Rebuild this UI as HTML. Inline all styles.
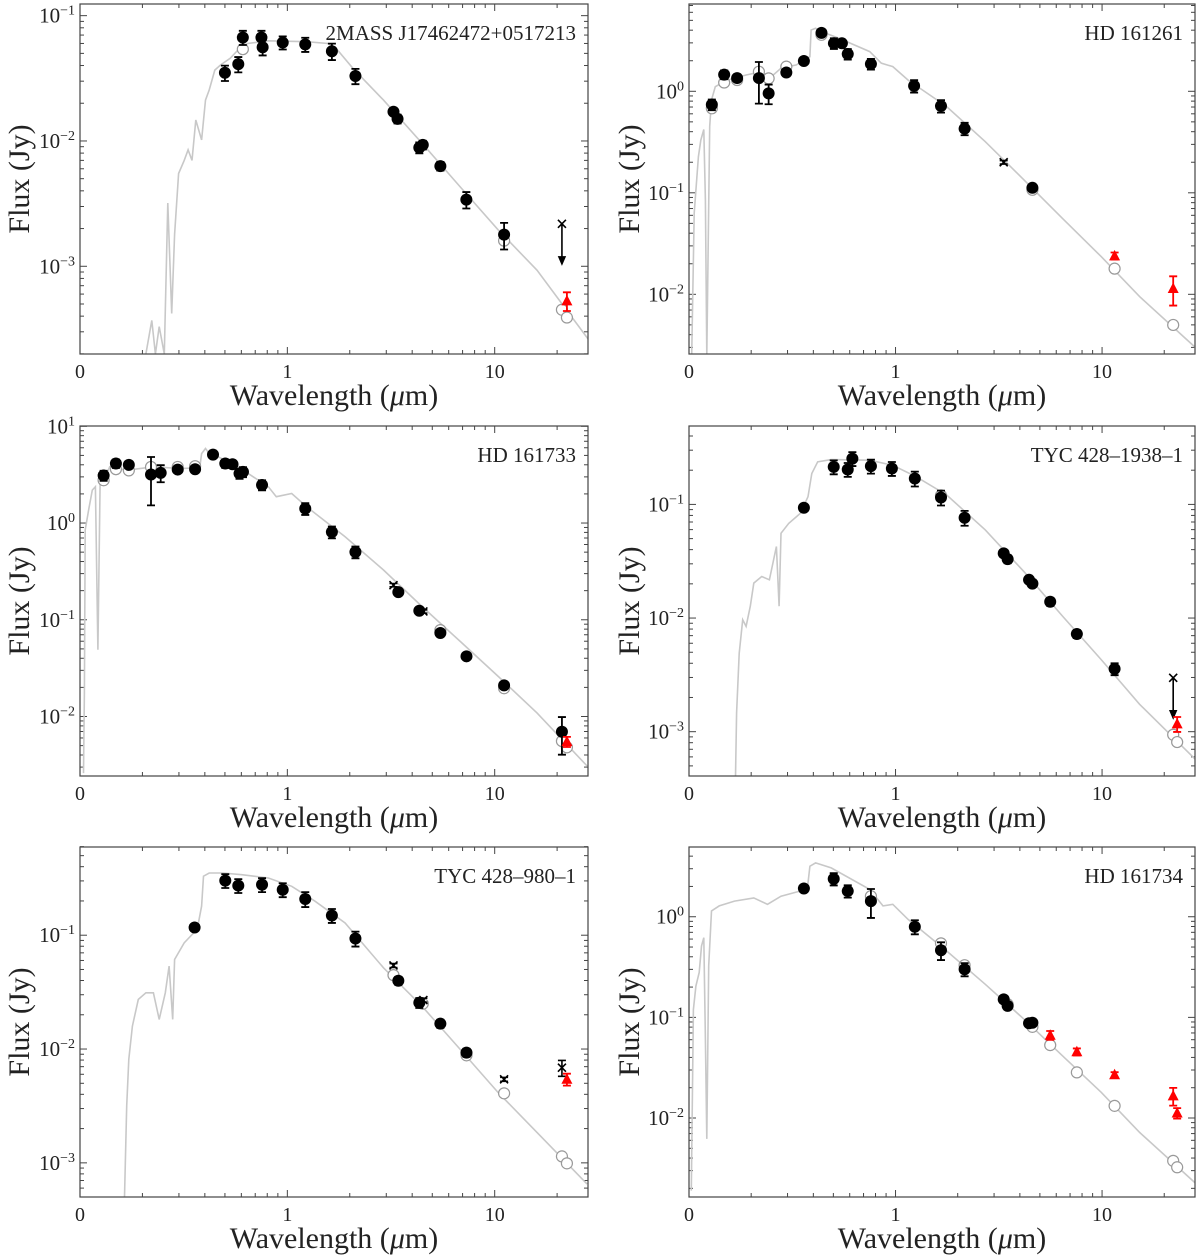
<!DOCTYPE html>
<html><head><meta charset="utf-8"><style>
html,body{margin:0;padding:0;background:#fff;}
svg{display:block;font-family:"Liberation Serif","DejaVu Serif",serif;}
</style></head><body>
<svg id="fig" width="1200" height="1260" viewBox="0 0 1200 1260" xmlns="http://www.w3.org/2000/svg"></svg>
<script>
// ===== Panel 1: 2MASS J17462472+0517213 =====
const p1ModelWl=[0.208,0.222,0.231,0.241,0.255,0.265,0.277,0.286,0.299,0.318,0.332,0.347,0.362,0.386,0.403,0.420,0.447,0.476,0.53,0.578,0.643,0.81,1.24,1.57,1.75,2.07,2.91,4.46,6.82,10.4,16.0,28.6];
const p1ModelFlux=[0.0002,0.00037,0.0002,0.00033,0.0002,0.0032,0.00042,0.0018,0.0055,0.007,0.0085,0.007,0.0147,0.0102,0.0212,0.0255,0.0368,0.0404,0.0457,0.0532,0.060,0.063,0.062,0.060,0.053,0.038,0.0212,0.0096,0.0043,0.00195,0.00093,0.000255];
const p1Wl=[0.50,0.58,0.61,0.75,0.76,0.95,1.22,1.64,2.13,3.25,3.4,4.33,4.5,5.47,7.3,11.1];
const p1Flux=[0.035,0.041,0.067,0.067,0.056,0.061,0.059,0.052,0.033,0.0171,0.015,0.00885,0.0093,0.0063,0.0034,0.00179];
const p1Err=[0.14,0.14,0.13,0.13,0.14,0.12,0.13,0.15,0.14,0.06,0.08,0.1,0.08,0.08,0.15,0.24];
const p1OpenWl=[0.61,11.1,21.1,22.3];
const p1OpenFlux=[0.054,0.0016,0.00045,0.00039];
const p1CrossWl=[21.1];
const p1CrossFlux=[0.00218];
const p1CrossErr=[0];
const p1CrossLimit=[true];
const p1RedWl=[22.3];
const p1RedFlux=[0.00053];
const p1RedErr=[0.17];

// ===== Panel 2: HD 161261 =====
const p2ModelWl=[0.103,0.106,0.111,0.114,0.118,0.120,0.122,0.126,0.1285,0.134,0.153,0.19,0.225,0.245,0.279,0.331,0.369,0.385,0.39,0.41,0.438,0.532,0.75,0.853,0.97,1.15,1.77,2.72,4.19,6.43,9.9,15.2,29.8];
const p2ModelFlux=[0.0025,0.063,0.227,0.33,0.42,0.085,0.0025,0.45,0.82,1.11,1.29,1.45,1.56,1.34,1.69,1.82,2.11,2.19,4.02,4.17,3.87,3.33,2.46,1.89,1.75,1.29,0.706,0.319,0.134,0.056,0.0235,0.0095,0.00272];
const p2Wl=[0.129,0.148,0.171,0.218,0.243,0.296,0.36,0.438,0.503,0.55,0.587,0.76,1.23,1.66,2.16,4.6];
const p2Flux=[0.74,1.46,1.35,1.35,0.955,1.53,1.99,3.76,2.97,2.97,2.33,1.86,1.13,0.717,0.429,0.112];
const p2Err=[0.12,0.1,0.08,0.44,0.22,0.08,0.06,0.05,0.12,0.06,0.12,0.12,0.14,0.14,0.14,0.04];
const p2OpenWl=[0.129,0.148,0.171,0.218,0.243,0.296,0.438,4.6,11.5,22.1];
const p2OpenFlux=[0.68,1.22,1.29,1.56,1.34,1.75,3.6,0.107,0.0179,0.00499];
const p2CrossWl=[3.34];
const p2CrossFlux=[0.20];
const p2CrossErr=[0.04];
const p2CrossLimit=[false];
const p2RedWl=[11.5,22.1];
const p2RedFlux=[0.0239,0.0114];
const p2RedErr=[0.08,0.32];

// ===== Panel 3: HD 161733 =====
const p3ModelWl=[0.104,0.105,0.106,0.110,0.1146,0.1186,0.122,0.125,0.130,0.139,0.168,0.226,0.305,0.378,0.386,0.403,0.42,0.448,0.578,0.81,0.885,1.05,1.24,1.9,2.91,4.46,6.82,10.4,16.0,27.9];
const p3ModelFlux=[0.0026,0.0175,0.85,1.36,2.19,2.37,0.049,2.57,2.67,3.81,3.52,3.81,3.66,3.72,5.22,5.9,5.22,5.02,3.81,2.37,1.87,2.02,1.47,0.72,0.327,0.137,0.0598,0.026,0.0109,0.00308];
const p3Wl=[0.130,0.149,0.172,0.22,0.245,0.296,0.359,0.438,0.502,0.544,0.588,0.611,0.755,1.22,1.64,2.13,3.43,4.33,5.47,7.31,11.1,21.1];
const p3Flux=[3.1,4.12,3.99,3.17,3.3,3.57,3.6,5.1,4.12,4.05,3.25,3.38,2.47,1.41,0.807,0.502,0.193,0.124,0.0729,0.0419,0.021,0.00695];
const p3Err=[0.12,0.1,0.06,0.52,0.2,0.06,0.06,0.05,0.1,0.05,0.12,0.12,0.12,0.14,0.14,0.14,0.06,0.06,0.08,0.06,0.05,0.42];
const p3OpenWl=[0.130,0.149,0.172,0.22,0.296,0.359,5.47,11.1,21.1,22.3];
const p3OpenFlux=[2.77,3.6,3.5,3.8,3.8,3.87,0.0782,0.0196,0.00557,0.0048];
const p3CrossWl=[3.25,4.53];
const p3CrossFlux=[0.228,0.122];
const p3CrossErr=[0.04,0.04];
const p3CrossLimit=[false,false];
const p3RedWl=[22.3];
const p3RedFlux=[0.0055];
const p3RedErr=[0.12];

// ===== Panel 4: TYC 428-1938-1 =====
const p4ModelWl=[0.168,0.170,0.175,0.182,0.189,0.198,0.206,0.225,0.245,0.265,0.273,0.279,0.304,0.346,0.377,0.393,0.42,0.488,0.75,0.97,1.26,1.77,2.72,4.19,6.43,9.9,15.2,29.8];
const p4ModelFlux=[0.0004,0.00147,0.0049,0.00966,0.00845,0.0127,0.0203,0.0232,0.0217,0.0426,0.0127,0.0557,0.0681,0.0834,0.117,0.187,0.237,0.248,0.245,0.221,0.175,0.121,0.0596,0.0256,0.0104,0.00431,0.00174,0.00052];
const p4Wl=[0.36,0.502,0.587,0.618,0.76,0.96,1.24,1.66,2.16,3.34,3.49,4.43,4.6,5.61,7.55,11.5];
const p4Flux=[0.0935,0.214,0.203,0.253,0.217,0.207,0.169,0.115,0.0763,0.0371,0.033,0.0217,0.0201,0.0139,0.00724,0.00357];
const p4Err=[0.04,0.14,0.14,0.14,0.14,0.14,0.15,0.15,0.15,0.06,0.08,0.06,0.06,0.08,0.08,0.12];
const p4OpenWl=[1.66,22.1,23.1];
const p4OpenFlux=[0.12,0.00094,0.00081];
const p4CrossWl=[22.1];
const p4CrossFlux=[0.00298];
const p4CrossErr=[0];
const p4CrossLimit=[true];
const p4RedWl=[23.1];
const p4RedFlux=[0.00117];
const p4RedErr=[0.15];

// ===== Panel 5: TYC 428-980-1 =====
const p5ModelWl=[0.164,0.168,0.172,0.179,0.191,0.208,0.226,0.241,0.258,0.269,0.28,0.286,0.318,0.354,0.37,0.386,0.394,0.42,0.488,0.603,0.81,1.05,1.36,1.9,2.91,4.46,6.82,10.4,16.0,27.9];
const p5ModelFlux=[0.0005,0.00316,0.00812,0.0159,0.0273,0.0312,0.0312,0.0182,0.0312,0.0535,0.0182,0.0612,0.0857,0.105,0.12,0.18,0.33,0.352,0.352,0.34,0.318,0.269,0.199,0.128,0.0517,0.0238,0.00993,0.00414,0.00185,0.00065];
const p5Wl=[0.357,0.502,0.58,0.755,0.95,1.22,1.64,2.13,3.43,4.33,5.47,7.31];
const p5Flux=[0.117,0.302,0.273,0.278,0.251,0.208,0.149,0.0935,0.0398,0.0255,0.0167,0.00929];
const p5Err=[0.04,0.14,0.14,0.14,0.14,0.15,0.14,0.15,0.08,0.1,0.08,0.08];
const p5OpenWl=[3.25,4.5,7.31,11.1,21.1,22.3];
const p5OpenFlux=[0.0446,0.025,0.0088,0.00408,0.00114,0.00099];
const p5CrossWl=[3.25,4.53,11.1,21.1];
const p5CrossFlux=[0.0542,0.0269,0.00542,0.00685];
const p5CrossErr=[0.04,0.04,0.04,0.16];
const p5CrossLimit=[false,false,false,false];
const p5RedWl=[22.3];
const p5RedFlux=[0.00542];
const p5RedErr=[0.12];

// ===== Panel 6: HD 161734 =====
const p6ModelWl=[0.1026,0.105,0.108,0.112,0.115,0.118,0.120,0.122,0.1245,0.1285,0.14,0.166,0.206,0.24,0.279,0.346,0.373,0.385,0.41,0.488,0.75,0.87,0.97,1.15,1.77,2.72,4.19,6.43,9.9,15.2,29.8];
const p6ModelFlux=[0.0019,0.12,0.205,0.279,0.512,0.619,0.0607,0.0062,0.324,1.14,1.28,1.43,1.54,1.33,1.6,1.8,1.8,3.18,3.43,3.06,1.87,1.28,1.33,0.94,0.457,0.213,0.096,0.0415,0.018,0.0072,0.00205];
const p6Wl=[0.36,0.502,0.587,0.76,1.24,1.66,2.16,3.34,3.49,4.43,4.6];
const p6Flux=[1.91,2.38,1.8,1.43,0.796,0.464,0.301,0.151,0.13,0.0875,0.0885];
const p6Err=[0.04,0.14,0.14,0.32,0.16,0.2,0.15,0.05,0.08,0.04,0.04];
const p6OpenWl=[0.76,1.66,2.16,3.49,4.6,5.61,7.55,11.5,22.1,23.1];
const p6OpenFlux=[1.6,0.544,0.33,0.135,0.0805,0.053,0.0284,0.0132,0.00375,0.00324];
const p6CrossWl=[];
const p6CrossFlux=[];
const p6CrossErr=[];
const p6CrossLimit=[];
const p6RedWl=[5.61,7.55,11.5,22.1,23.1];
const p6RedFlux=[0.0665,0.0455,0.0269,0.0166,0.0112];
const p6RedErr=[0.1,0.08,0.06,0.2,0.12];

const panelTitles=["2MASS J17462472+0517213","HD 161261","HD 161733","TYC 428–1938–1","TYC 428–980–1","HD 161734"];

const NS="http://www.w3.org/2000/svg";
const svg=document.getElementById('fig');
function mk(tag,attrs,parent){const e=document.createElementNS(NS,tag);for(const k in attrs)e.setAttribute(k,attrs[k]);(parent||svg).appendChild(e);return e;}

const colLeft=[80,689], colRight=[588,1195], rowTop=[4,426,847], plotH=350;
const XMIN=-1, XMAX=1.45;
const yRanges=[[-3.70,-0.907],[-2.588,0.86],[-2.615,1.003],[-3.39,-0.31],[-3.30,-0.225],[-2.785,0.693]];
const P=[
 {m:[p1ModelWl,p1ModelFlux],f:[p1Wl,p1Flux,p1Err],o:[p1OpenWl,p1OpenFlux],c:[p1CrossWl,p1CrossFlux,p1CrossErr,p1CrossLimit],r:[p1RedWl,p1RedFlux,p1RedErr]},
 {m:[p2ModelWl,p2ModelFlux],f:[p2Wl,p2Flux,p2Err],o:[p2OpenWl,p2OpenFlux],c:[p2CrossWl,p2CrossFlux,p2CrossErr,p2CrossLimit],r:[p2RedWl,p2RedFlux,p2RedErr]},
 {m:[p3ModelWl,p3ModelFlux],f:[p3Wl,p3Flux,p3Err],o:[p3OpenWl,p3OpenFlux],c:[p3CrossWl,p3CrossFlux,p3CrossErr,p3CrossLimit],r:[p3RedWl,p3RedFlux,p3RedErr]},
 {m:[p4ModelWl,p4ModelFlux],f:[p4Wl,p4Flux,p4Err],o:[p4OpenWl,p4OpenFlux],c:[p4CrossWl,p4CrossFlux,p4CrossErr,p4CrossLimit],r:[p4RedWl,p4RedFlux,p4RedErr]},
 {m:[p5ModelWl,p5ModelFlux],f:[p5Wl,p5Flux,p5Err],o:[p5OpenWl,p5OpenFlux],c:[p5CrossWl,p5CrossFlux,p5CrossErr,p5CrossLimit],r:[p5RedWl,p5RedFlux,p5RedErr]},
 {m:[p6ModelWl,p6ModelFlux],f:[p6Wl,p6Flux,p6Err],o:[p6OpenWl,p6OpenFlux],c:[p6CrossWl,p6CrossFlux,p6CrossErr,p6CrossLimit],r:[p6RedWl,p6RedFlux,p6RedErr]}
];

const defs=mk('defs',{});
P.forEach((pd,i)=>{
  const col=i%2,row=Math.floor(i/2);
  const L=colLeft[col],R=colRight[col],T=rowTop[row],B=T+plotH;
  const [ylo,yhi]=yRanges[i];
  const xs=w=>L+(Math.log10(w)-XMIN)/(XMAX-XMIN)*(R-L);
  const ys=f=>B-(Math.log10(f)-ylo)/(yhi-ylo)*(B-T);
  const g=mk('g',{});
  
  
  const cp=mk('clipPath',{id:'clip'+i},defs);
  mk('rect',{x:L,y:T,width:R-L,height:B-T},cp);

  // ticks
  const tg=mk('g',{stroke:'#444','stroke-width':1},g);
  
  
  for(let d=-1;d<=1;d++){
    for(let k=1;k<=9;k++){
      const v=k*Math.pow(10,d);const lv=Math.log10(v);
      if(lv<XMIN||lv>XMAX)continue;
      const x=xs(v),len=k===1?7:4;
      mk('line',{x1:x,y1:B,x2:x,y2:B-len},tg);
      mk('line',{x1:x,y1:T,x2:x,y2:T+len},tg);
    }
  }
  for(let d=Math.floor(ylo);d<=Math.ceil(yhi);d++){
    for(let k=1;k<=9;k++){
      const lv=d+Math.log10(k);
      if(lv<ylo-1e-6||lv>yhi+0.005)continue;
      const y=ys(Math.pow(10,lv)),len=k===1?7:4;
      mk('line',{x1:L,y1:y,x2:L+len,y2:y},tg);
      mk('line',{x1:R,y1:y,x2:R-len,y2:y},tg);
    }
    if(d>=ylo-1e-6&&d<=yhi+0.005){
      const y=ys(Math.pow(10,d));
      const t=mk('text',{x:L-5,y:y+7,'text-anchor':'end','font-size':21,fill:'#222'},g);
      
      
      const a=mk('tspan',{},t);a.textContent='10';
      const s=mk('tspan',{dy:-8,'font-size':14},t);s.textContent=(d<0?'−':'')+Math.abs(d);
    }
  }
  [['0',0.1],['1',1],['10',10]].forEach(([lab,v])=>{
    const t=mk('text',{x:xs(v),y:B+24,'text-anchor':'middle','font-size':20,fill:'#222'},g);
    
    
    t.textContent=lab;
  });

  // model
  const pts=pd.m[0].map((w,j)=>xs(w).toFixed(1)+','+ys(pd.m[1][j]).toFixed(1)).join(' ');
  const ml=mk('polyline',{points:pts,fill:'none',stroke:'#c8c8c8','stroke-width':1.6,'clip-path':'url(#clip'+i+')'},g);
  
  

  // open circles
  pd.o[0].forEach((w,j)=>{
    const c=mk('circle',{cx:xs(w),cy:ys(pd.o[1][j]),r:5.5,fill:'#fff',stroke:'#999','stroke-width':1.2},g);
    
    
  });
  // filled with error bars
  pd.f[0].forEach((w,j)=>{
    const f=pd.f[1][j],e=pd.f[2][j],x=xs(w);
    const y1=ys(f*(1+e)),y2=ys(Math.max(f*(1-e),1e-9));
    const eb=mk('path',{d:`M${x},${y1}V${y2}M${x-4},${y1}H${x+4}M${x-4},${y2}H${x+4}`,stroke:'#000','stroke-width':1.8,fill:'none'},g);
    
    
    const c=mk('circle',{cx:x,cy:ys(f),r:6,fill:'#000'},g);
    
    
  });
  // crosses
  pd.c[0].forEach((w,j)=>{
    const f=pd.c[1][j],e=pd.c[2][j],x=xs(w),y=ys(f);
    let d=`M${x-4},${y-4}L${x+4},${y+4}M${x-4},${y+4}L${x+4},${y-4}`;
    if(pd.c[3][j]){
      const ya=y+40;
      d+=`M${x},${y}V${ya}M${x-3},${ya-7}L${x},${ya}L${x+3},${ya-7}Z`;
    } else if(e>0){
      const y1=ys(f*(1+e)),y2=ys(f*(1-e));
      d+=`M${x},${y1}V${y2}M${x-4},${y1}H${x+4}M${x-4},${y2}H${x+4}`;
    }
    const p=mk('path',{d:d,stroke:'#000','stroke-width':1.6,fill:'#000'},g);
    
    
  });
  // red triangles
  pd.r[0].forEach((w,j)=>{
    const f=pd.r[1][j],e=pd.r[2][j],x=xs(w),y=ys(f);
    const y1=ys(f*(1+e)),y2=ys(f*(1-e));
    const eb=mk('path',{d:`M${x},${y1}V${y2}M${x-4},${y1}H${x+4}M${x-4},${y2}H${x+4}`,stroke:'#f00','stroke-width':1.8,fill:'none'},g);
    
    
    const t=mk('path',{d:`M${x},${y-6}L${x+5.5},${y+4.5}L${x-5.5},${y+4.5}Z`,fill:'#f00'},g);
    
    
  });

  // frame
  const fr=mk('rect',{x:L,y:T,width:R-L,height:B-T,fill:'none',stroke:'#444','stroke-width':1.2},g);
  
  
  // title
  const tt=mk('text',{x:R-12,y:T+36,'text-anchor':'end','font-size':21,fill:'#222'},g);
  
  
  tt.textContent=panelTitles[i];
  // axis labels
  const xl=mk('text',{x:(L+R)/2,y:B+51,'text-anchor':'middle','font-size':30,fill:'#222'},g);
  
  
  xl.appendChild(document.createTextNode('Wavelength ('));
  const mu=mk('tspan',{'font-style':'italic'},xl);mu.textContent='μ';
  xl.appendChild(document.createTextNode('m)'));
  const yx=col===0?29:639, yc=(T+B)/2;
  const yl=mk('text',{x:yx,y:yc,'text-anchor':'middle','font-size':30,fill:'#222',transform:`rotate(-90 ${yx} ${yc})`},g);
  
  
  yl.textContent='Flux (Jy)';
});
</script>
</body></html>
